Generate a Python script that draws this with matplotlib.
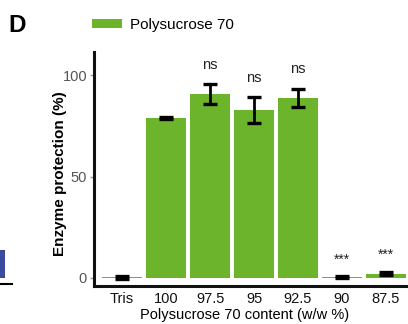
import matplotlib
matplotlib.use('Agg')
import matplotlib.pyplot as plt
from matplotlib.patches import Rectangle
from matplotlib.lines import Line2D
import numpy as np

plt.rcParams['font.family'] = ['Liberation Sans', 'DejaVu Sans']

# data
CATEGORIES = ['Tris', '100', '97.5', '95', '92.5', '90', '87.5']
PROTECTION = [0.3, 78.9, 90.7, 82.8, 88.7, 0.5, 2.1]
ERRORS = [0.6, 0.6, 4.8, 6.3, 4.5, 0.5, 0.9]
SIGNIF = ['', '', 'ns', 'ns', 'ns', '***', '***']

GREEN = '#6bb42c'
W, H = 408, 324

fig = plt.figure(figsize=(W / 100, H / 100), dpi=100)
ax = fig.add_axes([94 / W, 1 - 286 / H, 314 / W, 234 / H])

x = np.arange(len(CATEGORIES))
ax.bar(x, PROTECTION, width=0.91, color=GREEN, label='Polysucrose 70')
ax.errorbar(x, PROTECTION, yerr=ERRORS, fmt='none', ecolor='black',
            elinewidth=2.0, capsize=4.8, capthick=2.4)

# significance labels above error bars
for xi, v, e, s in zip(x, PROTECTION, ERRORS, SIGNIF):
    if s == 'ns':
        ax.text(xi, v + e + 7.8, s, ha='center', va='baseline',
                fontsize=10.5, color='#222222')
    elif s:
        ax.text(xi, v + e + 6.2, s, ha='center', va='baseline',
                fontsize=10, color='#222222')

ax.set_xlim(-0.64, 6.5)
ax.set_ylim(-4, 111.5)
ax.set_yticks([0, 50, 100])
ax.set_xticks(x)
ax.set_xticklabels(CATEGORIES)
ax.tick_params(axis='y', colors='#999999', labelcolor='#555555',
               labelsize=10.5, length=3, width=1, pad=2)
ax.tick_params(axis='x', length=0, labelsize=10.5, labelcolor='#111111', pad=4)

for side in ['top', 'right']:
    ax.spines[side].set_visible(False)
for side in ['left', 'bottom']:
    ax.spines[side].set_linewidth(2.2)
    ax.spines[side].set_color('#111111')

ax.set_ylabel('Enzyme protection (%)', fontsize=11, fontweight='bold')
ax.yaxis.set_label_coords(-0.086, 0.48)
ax.set_xlabel('Polysucrose 70 content (w/w %)', fontsize=10.5)
ax.xaxis.set_label_coords(0.478, -0.094)

fig.legend(loc='upper left', bbox_to_anchor=(92 / W, 1 - 18 / H),
           frameon=False, fontsize=11, handlelength=1.95, handleheight=0.5,
           handletextpad=0.55, borderpad=0, borderaxespad=0)

fig.text(8 / W, 1 - 25 / H, 'D', fontsize=17.5, fontweight='bold',
         va='center', ha='left')

# fragment of neighbouring panel
fig.add_artist(Rectangle((0, 1 - 278 / H), 5 / W, 28 / H,
                         transform=fig.transFigure, color='#3a4a9e', lw=0))
fig.add_artist(Line2D([0, 12 / W], [1 - 284 / H, 1 - 284 / H],
                      transform=fig.transFigure, color='black', lw=1.5))

fig.savefig('out.png', dpi=100)
